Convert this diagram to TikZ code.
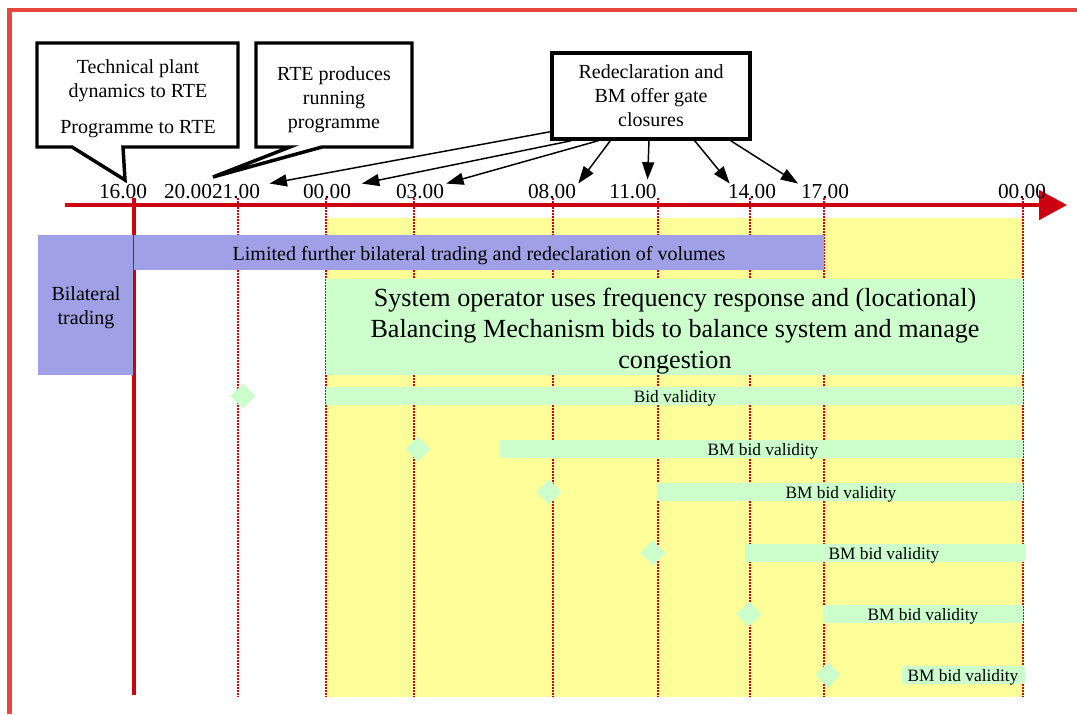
\documentclass[tikz,border=0pt]{standalone}
\usepackage{fontspec}
\setmainfont{Liberation Serif}
\usetikzlibrary{arrows.meta,shapes.geometric}

\definecolor{framered}{HTML}{E8453C}
\definecolor{axisred}{HTML}{CC0011}
\definecolor{tradeblue}{HTML}{A0A0E6}
\definecolor{bidgreen}{HTML}{CCFFCC}
\definecolor{dayyellow}{HTML}{FFFF99}

\tikzset{
  ticklabel/.style={font=\fontsize{16}{19}\selectfont, inner sep=0pt, anchor=base},
  callouttext/.style={align=center, font=\fontsize{15}{18}\selectfont, inner sep=0pt, anchor=north},
  calloutline/.style={line width=2.6pt, line join=miter},
  gatearrow/.style={line width=1.1pt, -{Triangle[length=13pt,width=9pt]}},
  hourline/.style={axisred, line width=1.5pt, dash pattern=on 1.5pt off 0.75pt},
  bartext/.style={font=\fontsize{15}{18}\selectfont, inner sep=0pt, anchor=base},
  bidtext/.style={font=\fontsize{13}{15}\selectfont, inner sep=0pt, anchor=base},
  biddiamond/.style={diamond, fill=bidgreen, inner sep=0pt, minimum width=19pt, minimum height=19pt},
}

\begin{document}
\begin{tikzpicture}[x=0.75pt,y=-0.75pt]
\useasboundingbox (0,0) rectangle (1077,714);

% frame
\draw[framered, line width=3.4pt] (9.5,714) -- (9.5,10) -- (1077,10);

% day after gate closure
\fill[dayyellow] (326,218) rectangle (1023,697);
\foreach \t in {238,326,414,553,658,750,824,1023}
  \draw[hourline] (\t,198) -- (\t,697);
\draw[axisred, line width=3pt] (134,198) -- (134,695);

% time axis
\draw[axisred, line width=3pt, -{Triangle[length=21pt,width=22pt]}] (65,205) -- (1067,205);
\node[ticklabel] (l16) at (123,198) {16.00};
\node[ticklabel] (l20) at (188,198) {20.00};
\node[ticklabel] (l21) at (236,198) {21.00};
\node[ticklabel] (l00) at (327,198) {00.00};
\node[ticklabel] (l03) at (420,198) {03.00};
\node[ticklabel] (l08) at (552,198) {08.00};
\node[ticklabel] (l11) at (633,198) {11.00};
\node[ticklabel] (l14) at (752,198) {14.00};
\node[ticklabel] (l17) at (825,198) {17.00};
\node[ticklabel] (l24) at (1022,198) {00.00};

% trading and balancing
\fill[tradeblue] (38,235) rectangle (133,375);
\node[callouttext] (bil) at (86,286) {Bilateral\\trading};
\fill[tradeblue] (134,235) rectangle (824,270);
\node[bartext] (lim) at (479,260) {Limited further bilateral trading and redeclaration of volumes};
\fill[bidgreen] (326,279) rectangle (1023,375);
\node[align=center, inner sep=0pt, anchor=north, font=\fontsize{19.6}{23}\selectfont] (sys) at (675,288)
  {System operator uses frequency response and (locational)\\Balancing Mechanism bids to balance system and manage\\congestion};

% bid validity
\fill[bidgreen] (326,387) rectangle (1023,405);
\node[bidtext] (bv1) at (675,402) {Bid validity};
\node[biddiamond] (d1) at (243,396) {};
\fill[bidgreen] (500,440) rectangle (1023,458);
\node[bidtext] (bv2) at (763,455) {BM bid validity};
\node[biddiamond] (d2) at (418,449) {};
\fill[bidgreen] (657,483) rectangle (1023,501);
\node[bidtext] (bv3) at (841,498) {BM bid validity};
\node[biddiamond] (d3) at (549,492) {};
\fill[bidgreen] (745,544) rectangle (1025,562);
\node[bidtext] (bv4) at (884,559) {BM bid validity};
\node[biddiamond] (d4) at (653,553) {};
\fill[bidgreen] (823,605) rectangle (1023,623);
\node[bidtext] (bv5) at (923,620) {BM bid validity};
\node[biddiamond] (d5) at (749,614) {};
\fill[bidgreen] (902,666) rectangle (1025,684);
\node[bidtext] (bv6) at (963,681) {BM bid validity};
\node[biddiamond] (d6) at (828,675) {};

% callouts
\node[callouttext] (tpd) at (138,59) {Technical plant\\dynamics to RTE\\[9pt]Programme to RTE};
\draw[calloutline] (37,43) -- (238,43) -- (238,147) -- (123,147) -- (125,180) -- (72,147) -- (37,147) -- cycle;
\node[callouttext] (rte) at (334,66) {RTE produces\\running\\programme};
\draw[calloutline] (256,43) -- (412,43) -- (412,147) -- (322,147) -- (213,177) -- (290,147) -- (256,147) -- cycle;
\node[draw, calloutline, align=center, font=\fontsize{15}{18}\selectfont, minimum width=148.5pt, minimum height=64.5pt] (rdc) at (651,96)
  {Redeclaration and\\BM offer gate\\closures};

% gate closures
\draw[gatearrow] ([yshift=6.75pt]rdc.south west) -- ([xshift=7pt]l21.north east);
\draw[gatearrow] ([xshift=15.75pt]rdc.south west) -- ([xshift=8pt]l00.north east);
\draw[gatearrow] ([xshift=36pt]rdc.south west) -- ([xshift=1.5pt]l03.north east);
\draw[gatearrow] ([xshift=45pt]rdc.south west) -- ([xshift=1.5pt]l08.north east);
\draw[gatearrow] ([xshift=-1.5pt]rdc.south) -- ([xshift=-7pt,yshift=3pt]l11.north east);
\draw[gatearrow] ([xshift=-42.75pt]rdc.south east) -- ([xshift=1.5pt]l14.north west);
\draw[gatearrow] ([xshift=-15.75pt]rdc.south east) -- ([xshift=-2pt]l17.north west);
\end{tikzpicture}
\end{document}
